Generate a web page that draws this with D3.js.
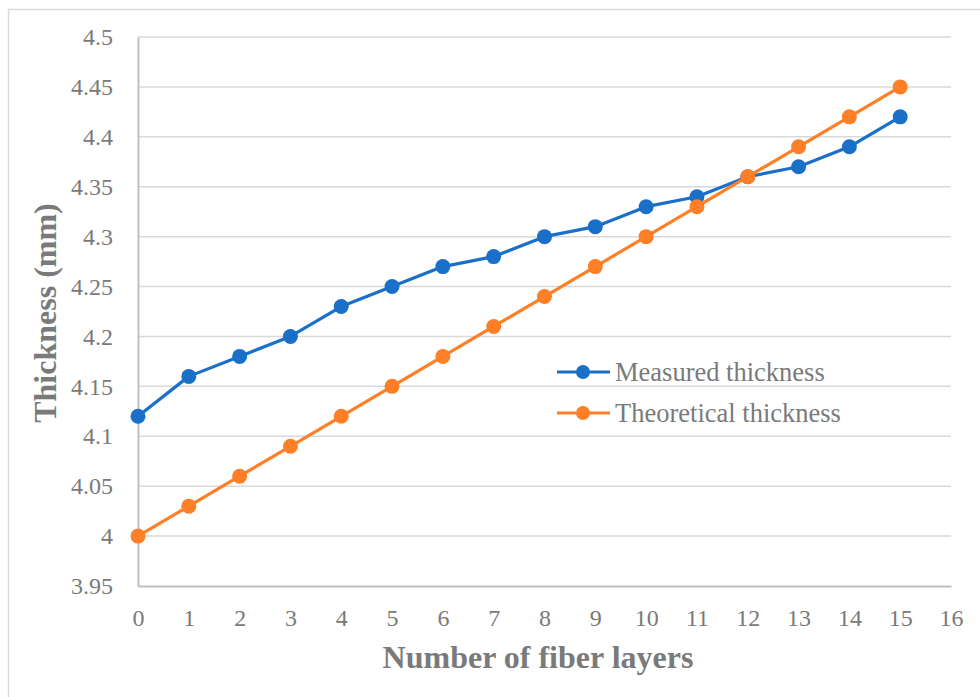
<!DOCTYPE html>
<html>
<head>
<meta charset="utf-8">
<script src="https://cdn.jsdelivr.net/npm/d3@7"></script>
<style>
  body { margin: 0; background: #fff; }
  text { font-family: "Liberation Serif", "Times New Roman", serif; }
</style>
</head>
<body>
<svg></svg>
<script>
const width = 980
const height = 697

const layers = [0, 1, 2, 3, 4, 5, 6, 7, 8, 9, 10, 11, 12, 13, 14, 15]
const measured = [4.12, 4.16, 4.18, 4.20, 4.23, 4.25, 4.27, 4.28, 4.30, 4.31, 4.33, 4.34, 4.36, 4.37, 4.39, 4.42]
const theoretical = [4.00, 4.03, 4.06, 4.09, 4.12, 4.15, 4.18, 4.21, 4.24, 4.27, 4.30, 4.33, 4.36, 4.39, 4.42, 4.45]
const xTicks = d3.range(0, 17)
const yTicks = [3.95, 4, 4.05, 4.1, 4.15, 4.2, 4.25, 4.3, 4.35, 4.4, 4.45, 4.5]
const seriesNames = ['Measured thickness', 'Theoretical thickness']
const colors = ['#1a70c8', '#ff7f27']

let svg = d3.select('svg').attr('width', width).attr('height', height)

// outer chart border
svg.append('rect')
    .attr('x', 8.5).attr('y', 9.5)
    .attr('width', 1000).attr('height', 1000)
    .attr('fill', 'none').attr('stroke', '#d9d9d9').attr('stroke-width', 1.5)

let xScale = d3.scaleLinear().domain([0, 16]).range([138, 951])
let yScale = d3.scaleLinear().domain([3.95, 4.5]).range([586, 37])

// gridlines
svg.append('g')
    .selectAll('line')
    .data(yTicks.slice(1))
    .enter()
    .append('line')
    .attr('x1', xScale(0)).attr('x2', xScale(16))
    .attr('y1', d => yScale(d)).attr('y2', d => yScale(d))
    .attr('stroke', '#d9d9d9').attr('stroke-width', 1.5)

let xAxis = d3.axisBottom(xScale).tickValues(xTicks).tickSize(0).tickPadding(23).tickFormat(d3.format('d'))
let yAxis = d3.axisLeft(yScale).tickValues(yTicks).tickSize(0).tickPadding(25).tickFormat(d => String(+d.toFixed(2)))

let gx = svg.append('g')
    .attr('transform', 'translate(0,' + yScale(3.95) + ')')
    .call(xAxis)
gx.select('.domain').attr('stroke', '#bfbfbf').attr('stroke-width', 2)
gx.selectAll('text').attr('font-size', 24).attr('fill', '#7a7a7a')
    .attr('font-family', '"Liberation Serif", serif')

let gy = svg.append('g')
    .attr('transform', 'translate(' + xScale(0) + ',0)')
    .call(yAxis)
gy.select('.domain').attr('stroke', '#bfbfbf').attr('stroke-width', 2)
gy.selectAll('text').attr('font-size', 24).attr('fill', '#7a7a7a')
    .attr('font-family', '"Liberation Serif", serif')

// axis titles
svg.append('text')
    .attr('x', 538).attr('y', 668)
    .attr('text-anchor', 'middle')
    .attr('font-size', 32).attr('font-weight', 'bold').attr('fill', '#7a7a7a')
    .text('Number of fiber layers')

svg.append('text')
    .attr('transform', 'translate(56,313) rotate(-90)')
    .attr('text-anchor', 'middle')
    .attr('font-size', 32).attr('font-weight', 'bold').attr('fill', '#7a7a7a')
    .text('Thickness (mm)')

// series
let allSeries = [measured, theoretical]
let line = d3.line().x((d, i) => xScale(layers[i])).y(d => yScale(d))

allSeries.forEach((values, s) => {
    svg.append('path')
        .datum(values)
        .attr('d', line)
        .attr('fill', 'none')
        .attr('stroke', colors[s])
        .attr('stroke-width', 3.2)
        .attr('stroke-linejoin', 'round')

    svg.append('g')
        .selectAll('circle')
        .data(values)
        .enter()
        .append('circle')
        .attr('cx', (d, i) => xScale(layers[i]))
        .attr('cy', d => yScale(d))
        .attr('r', 7.5)
        .attr('fill', colors[s])
})

// legend
let legend = svg.append('g')
seriesNames.forEach((name, s) => {
    let y = 372 + s * 41
    legend.append('line')
        .attr('x1', 557).attr('x2', 610).attr('y1', y).attr('y2', y)
        .attr('stroke', colors[s]).attr('stroke-width', 3.2)
    legend.append('circle')
        .attr('cx', 583).attr('cy', y).attr('r', 7)
        .attr('fill', colors[s])
    legend.append('text')
        .attr('x', 615).attr('y', y).attr('dy', '0.35em')
        .attr('font-size', 26.5).attr('fill', '#7a7a7a')
        .text(name)
})
</script>
</body>
</html>
